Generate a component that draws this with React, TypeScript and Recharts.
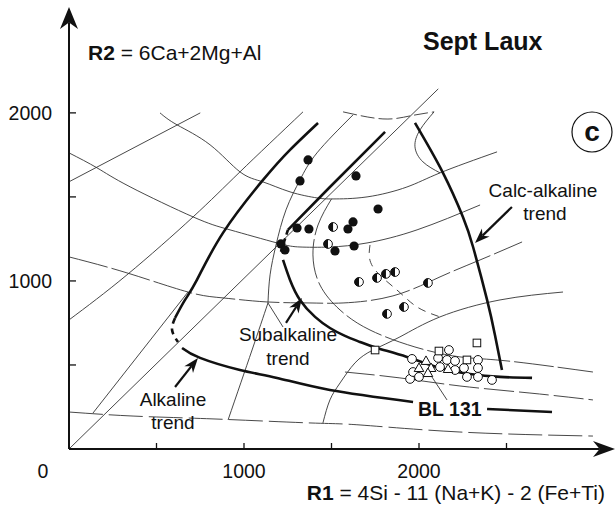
import React from 'react';
import { ComposedChart, Line, Scatter, XAxis, YAxis, ReferenceLine } from 'recharts';

type Pt = { x: number; y: number };

// axis ticks
const xTicks = [0, 500, 1000, 1500, 2000, 2500];
const xTickLabels: Record<number, string> = { 0: '0', 1000: '1000', 2000: '2000' };
const yTicks = [500, 1000, 1500, 2000];
const yTickLabels: Record<number, string> = { 1000: '1000', 2000: '2000' };

// axes (with arrow heads)
const xAxisLine: Pt[] = [{ x: 0, y: 0 }, { x: 3120, y: 0 }];
const yAxisLine: Pt[] = [{ x: 0, y: 0 }, { x: 0, y: 2630 }];

// thin field boundaries
const originLine: Pt[] = [{ x: 0, y: 0 }, { x: 2110, y: 2143 }];
const lineA: Pt[] = [{ x: 0, y: 1590 }, { x: 750, y: 2000 }];
const curveB: Pt[] = [
  { x: 520, y: 2000 }, { x: 617, y: 1929 }, { x: 806, y: 1810 }, { x: 977, y: 1649 },
  { x: 1109, y: 1589 }, { x: 1263, y: 1530 }, { x: 1417, y: 1494 }, { x: 1509, y: 1488 },
  { x: 1703, y: 1500 }, { x: 1931, y: 1559 }, { x: 2120, y: 1643 }, { x: 2446, y: 1768 },
];
const curveC: Pt[] = [
  { x: 0, y: 1762 }, { x: 160, y: 1673 }, { x: 349, y: 1560 }, { x: 709, y: 1381 },
  { x: 920, y: 1304 }, { x: 1189, y: 1226 }, { x: 1320, y: 1202 }, { x: 1491, y: 1202 },
  { x: 1703, y: 1226 }, { x: 1989, y: 1304 }, { x: 2349, y: 1452 },
];
const curveC2: Pt[] = [
  { x: 0, y: 1143 }, { x: 331, y: 1048 }, { x: 680, y: 934 }, { x: 880, y: 899 },
  { x: 1131, y: 875 }, { x: 1377, y: 869 }, { x: 1566, y: 869 }, { x: 1851, y: 911 },
  { x: 2120, y: 1024 }, { x: 2349, y: 1125 }, { x: 2589, y: 1232 },
];
const lineE: Pt[] = [
  { x: 0, y: 768 }, { x: 331, y: 1036 }, { x: 709, y: 1381 }, { x: 977, y: 1649 }, { x: 1337, y: 2006 },
];
const lineF: Pt[] = [{ x: 137, y: 214 }, { x: 680, y: 934 }];
const curveJ: Pt[] = [
  { x: 0, y: 220 }, { x: 366, y: 196 }, { x: 823, y: 179 }, { x: 1377, y: 155 },
  { x: 1663, y: 143 }, { x: 2234, y: 101 }, { x: 2994, y: 77 },
];
const curveG: Pt[] = [
  { x: 1451, y: 155 }, { x: 1491, y: 292 }, { x: 1549, y: 393 }, { x: 1634, y: 512 },
  { x: 1737, y: 589 }, { x: 1891, y: 667 }, { x: 2120, y: 786 }, { x: 2463, y: 887 }, { x: 2823, y: 934 },
];
const curveI: Pt[] = [
  { x: 1500, y: 1488 }, { x: 1423, y: 1333 }, { x: 1394, y: 1155 }, { x: 1434, y: 976 },
  { x: 1549, y: 827 }, { x: 1720, y: 708 }, { x: 1977, y: 607 }, { x: 2234, y: 548 },
  { x: 2503, y: 524 }, { x: 2994, y: 458 },
];
const curveM: Pt[] = [
  { x: 1577, y: 458 }, { x: 1891, y: 423 }, { x: 2234, y: 375 }, { x: 2634, y: 333 }, { x: 2994, y: 292 },
];
const curveL: Pt[] = [
  { x: 1623, y: 1988 }, { x: 1417, y: 1762 }, { x: 1320, y: 1601 }, { x: 1240, y: 1423 },
  { x: 1183, y: 1214 }, { x: 1149, y: 1036 }, { x: 1137, y: 869 },
];
const curveL2: Pt[] = [{ x: 1137, y: 869 }, { x: 1046, y: 589 }, { x: 909, y: 173 }];
const curveL3: Pt[] = [{ x: 1137, y: 869 }, { x: 1223, y: 726 }];
const curveP: Pt[] = [
  { x: 1720, y: 1214 }, { x: 1737, y: 1083 }, { x: 1874, y: 946 }, { x: 1989, y: 845 }, { x: 2120, y: 786 },
];
const arcQ: Pt[] = [{ x: 1566, y: 2006 }, { x: 1794, y: 1964 }, { x: 1949, y: 1982 }, { x: 2086, y: 2006 }];
const curveR: Pt[] = [
  { x: 2086, y: 2006 }, { x: 2006, y: 1899 }, { x: 1977, y: 1798 }, { x: 2023, y: 1708 }, { x: 2120, y: 1643 },
];

// thick trends
const alkUpper: Pt[] = [
  { x: 1423, y: 1940 }, { x: 1263, y: 1780 }, { x: 1109, y: 1601 }, { x: 880, y: 1286 },
  { x: 731, y: 1006 }, { x: 663, y: 887 }, { x: 606, y: 780 },
];
const alkDashed: Pt[] = [{ x: 606, y: 780 }, { x: 589, y: 708 }, { x: 623, y: 637 }];
const alkLower: Pt[] = [
  { x: 646, y: 601 }, { x: 749, y: 542 }, { x: 977, y: 470 }, { x: 1189, y: 423 },
  { x: 1491, y: 351 }, { x: 1966, y: 280 },
];
const alkTail: Pt[] = [{ x: 2389, y: 238 }, { x: 2760, y: 220 }];
const subUpper: Pt[] = [{ x: 1806, y: 1887 }, { x: 1491, y: 1559 }, { x: 1251, y: 1304 }];
const subDashed: Pt[] = [{ x: 1251, y: 1304 }, { x: 1211, y: 1173 }];
const subLower: Pt[] = [
  { x: 1223, y: 1125 }, { x: 1263, y: 1006 }, { x: 1320, y: 887 }, { x: 1406, y: 786 },
  { x: 1491, y: 720 }, { x: 1577, y: 673 }, { x: 1663, y: 637 }, { x: 1760, y: 601 },
  { x: 1931, y: 548 }, { x: 2120, y: 482 }, { x: 2291, y: 446 }, { x: 2463, y: 429 }, { x: 2646, y: 423 },
];
const calcAlk: Pt[] = [
  { x: 1977, y: 1940 }, { x: 2137, y: 1643 }, { x: 2251, y: 1381 }, { x: 2309, y: 1202 },
  { x: 2389, y: 887 }, { x: 2434, y: 679 }, { x: 2474, y: 470 },
];

// annotation arrows
const calcArrow: Pt[] = [{ x: 2531, y: 1440 }, { x: 2320, y: 1226 }];
const subArrow: Pt[] = [{ x: 1240, y: 750 }, { x: 1331, y: 899 }];
const alkArrow: Pt[] = [{ x: 606, y: 369 }, { x: 737, y: 542 }];
const bl131Leader: Pt[] = [{ x: 2063, y: 446 }, { x: 2160, y: 292 }];

// samples
const filledPts: Pt[] = [
  { x: 1366, y: 1720 }, { x: 1320, y: 1595 }, { x: 1640, y: 1625 }, { x: 1766, y: 1428 },
  { x: 1623, y: 1351 }, { x: 1594, y: 1309 }, { x: 1303, y: 1315 }, { x: 1371, y: 1309 },
  { x: 1211, y: 1220 }, { x: 1234, y: 1184 }, { x: 1520, y: 1178 }, { x: 1629, y: 1208 },
];
const halfPts: Pt[] = [
  { x: 1509, y: 1321 }, { x: 1480, y: 1220 }, { x: 1657, y: 994 }, { x: 1760, y: 1018 },
  { x: 1811, y: 1042 }, { x: 1863, y: 1053 }, { x: 2051, y: 988 }, { x: 1914, y: 845 }, { x: 1817, y: 804 },
];
const openCircles: Pt[] = [
  { x: 1960, y: 536 }, { x: 2171, y: 589 }, { x: 2109, y: 542 }, { x: 2160, y: 530 },
  { x: 2206, y: 524 }, { x: 2337, y: 530 }, { x: 2257, y: 482 }, { x: 2337, y: 482 },
  { x: 2274, y: 429 }, { x: 2337, y: 429 }, { x: 2417, y: 411 }, { x: 1949, y: 417 },
  { x: 1966, y: 458 }, { x: 2000, y: 429 }, { x: 2120, y: 488 }, { x: 2206, y: 470 },
];
const openSquares: Pt[] = [
  { x: 1749, y: 589 }, { x: 2114, y: 583 }, { x: 2331, y: 631 }, { x: 2274, y: 530 },
];
const openTriangles: Pt[] = [
  { x: 2000, y: 482 }, { x: 2040, y: 524 }, { x: 2069, y: 482 }, { x: 2051, y: 452 }, { x: 2166, y: 476 },
];

const FONT = '"Liberation Sans", Arial, Helvetica, sans-serif';
const INK = '#111';

function arrowShape(len: number, half: number, sw: number) {
  return (p: any) => {
    const { x1, y1, x2, y2 } = p;
    const dx = x2 - x1;
    const dy = y2 - y1;
    const d = Math.hypot(dx, dy) || 1;
    const ux = dx / d;
    const uy = dy / d;
    const nx = -uy;
    const ny = ux;
    const bx = x2 - ux * len;
    const by = y2 - uy * len;
    const ix = x2 - ux * len * 0.7;
    const iy = y2 - uy * len * 0.7;
    return (
      <g>
        <line x1={x1} y1={y1} x2={ix} y2={iy} stroke={INK} strokeWidth={sw} />
        <path
          d={`M${x2},${y2} L${bx + nx * half},${by + ny * half} L${ix},${iy} L${bx - nx * half},${by - ny * half} Z`}
          fill={INK}
        />
      </g>
    );
  };
}

const XTick = (props: any) => {
  const { x, y, payload } = props;
  const v = payload.value;
  const label = xTickLabels[v];
  return (
    <g>
      {v !== 0 && <line x1={x} y1={y} x2={x} y2={y - 6} stroke={INK} strokeWidth={1.3} />}
      {label && (
        <text x={v === 0 ? x - 26 : x} y={y + 29} textAnchor="middle" fontSize={19.5} fontFamily={FONT} fill={INK}>
          {label}
        </text>
      )}
    </g>
  );
};

const YTick = (props: any) => {
  const { x, y, payload } = props;
  const v = payload.value;
  const label = yTickLabels[v];
  return (
    <g>
      <line x1={x} y1={y} x2={x + 7} y2={y} stroke={INK} strokeWidth={1.3} />
      {label && (
        <text x={x - 17} y={y} dy="0.35em" textAnchor="end" fontSize={19.5} fontFamily={FONT} fill={INK}>
          {label}
        </text>
      )}
    </g>
  );
};

const filledDot = (p: any) => <circle cx={p.cx} cy={p.cy} r={4.6} fill={INK} />;
const halfDot = (p: any) => {
  const r = 4.4;
  return (
    <g>
      <circle cx={p.cx} cy={p.cy} r={r} fill="#fff" stroke={INK} strokeWidth={1} />
      <path d={`M${p.cx},${p.cy - r} A${r},${r} 0 0 0 ${p.cx},${p.cy + r} Z`} fill={INK} />
    </g>
  );
};
const openDot = (p: any) => <circle cx={p.cx} cy={p.cy} r={4.4} fill="#fff" stroke={INK} strokeWidth={1} />;
const openSquare = (p: any) => (
  <rect x={p.cx - 3.8} y={p.cy - 3.8} width={7.6} height={7.6} fill="#fff" stroke={INK} strokeWidth={1} />
);
const openTriangle = (p: any) => (
  <path
    d={`M${p.cx},${p.cy - 5} L${p.cx + 4.8},${p.cy + 3.5} L${p.cx - 4.8},${p.cy + 3.5} Z`}
    fill="#fff"
    stroke={INK}
    strokeWidth={1}
  />
);

function thin(data: Pt[], key: string, dash?: string, type: any = 'natural') {
  return (
    <Line
      key={key}
      data={data}
      dataKey="y"
      type={type}
      stroke="#333"
      strokeWidth={0.9}
      strokeDasharray={dash}
      dot={false}
      activeDot={false}
      isAnimationActive={false}
    />
  );
}

function thick(data: Pt[], key: string, dash?: string) {
  return (
    <Line
      key={key}
      data={data}
      dataKey="y"
      type="natural"
      stroke={INK}
      strokeWidth={2.6}
      strokeDasharray={dash}
      dot={false}
      activeDot={false}
      isAnimationActive={false}
    />
  );
}

export default function App() {
  return (
    <div style={{ position: 'absolute', left: 0, top: 0, width: 616, height: 512, background: '#fff' }}>
      <ComposedChart width={616} height={512} margin={{ top: 7, right: 1, bottom: 33, left: 9 }}>
        <XAxis
          dataKey="x"
          type="number"
          domain={[0, 3120]}
          allowDataOverflow
          ticks={xTicks}
          height={30}
          axisLine={false}
          tickLine={false}
          tickSize={0}
          tickMargin={0}
          tick={<XTick />}
          interval={0}
        />
        <YAxis
          dataKey="y"
          type="number"
          domain={[0, 2630]}
          allowDataOverflow
          ticks={yTicks}
          width={60}
          axisLine={false}
          tickLine={false}
          tickSize={0}
          tickMargin={0}
          tick={<YTick />}
          interval={0}
        />

        {thin(originLine, 'origin', undefined, 'linear')}
        {thin(lineA, 'a', undefined, 'linear')}
        {thin(curveB, 'b')}
        {thin(curveC, 'c')}
        {thin(curveC2, 'c2', '40 4')}
        {thin(lineE, 'e')}
        {thin(lineF, 'f', undefined, 'linear')}
        {thin(curveJ, 'j', '34 6')}
        {thin(curveG, 'g')}
        {thin(curveI, 'i', '40 4')}
        {thin(curveM, 'm', '30 5')}
        {thin(curveL, 'l')}
        {thin(curveL2, 'l2')}
        {thin(curveL3, 'l3', undefined, 'linear')}
        {thin(curveP, 'p', '8 6')}
        {thin(arcQ, 'q', '14 4')}
        {thin(curveR, 'r')}

        {thick(alkUpper, 'alkU')}
        {thick(alkDashed, 'alkD', '6 5')}
        {thick(alkLower, 'alkL')}
        {thick(alkTail, 'alkT')}
        {thick(subUpper, 'subU')}
        {thick(subDashed, 'subD', '5 4')}
        {thick(subLower, 'subL')}
        {thick(calcAlk, 'calc')}

        <ReferenceLine segment={bl131Leader} stroke="#333" strokeWidth={0.9} ifOverflow="visible" />
        <ReferenceLine segment={calcArrow} ifOverflow="visible" shape={arrowShape(15, 5.5, 2.2)} />
        <ReferenceLine segment={subArrow} ifOverflow="visible" shape={arrowShape(15, 5.5, 2.2)} />
        <ReferenceLine segment={alkArrow} ifOverflow="visible" shape={arrowShape(15, 5.5, 2.2)} />
        <ReferenceLine segment={xAxisLine} ifOverflow="visible" shape={arrowShape(22, 8, 2)} />
        <ReferenceLine segment={yAxisLine} ifOverflow="visible" shape={arrowShape(22, 9, 2)} />

        <Scatter data={filledPts} dataKey="y" shape={filledDot} isAnimationActive={false} />
        <Scatter data={halfPts} dataKey="y" shape={halfDot} isAnimationActive={false} />
        <Scatter data={openCircles} dataKey="y" shape={openDot} isAnimationActive={false} />
        <Scatter data={openSquares} dataKey="y" shape={openSquare} isAnimationActive={false} />
        <Scatter data={openTriangles} dataKey="y" shape={openTriangle} isAnimationActive={false} />
      </ComposedChart>

      <svg
        width={616}
        height={512}
        style={{ position: 'absolute', left: 0, top: 0, pointerEvents: 'none' }}
        fontFamily={FONT}
        fill={INK}
      >
        <text x={88} y={60} fontSize={21}>
          <tspan fontWeight="bold">R2</tspan>
          {' = 6Ca+2Mg+Al'}
        </text>
        <text x={423} y={50} fontSize={25} fontWeight="bold">
          Sept Laux
        </text>
        <circle cx={592} cy={132} r={20} fill="none" stroke={INK} strokeWidth={1.2} />
        <text x={592} y={141} textAnchor="middle" fontSize={28} fontWeight="bold">
          c
        </text>
        <text x={543} y={197} textAnchor="middle" fontSize={19}>Calc-alkaline</text>
        <text x={545} y={220} textAnchor="middle" fontSize={19}>trend</text>
        <text x={288} y={341} textAnchor="middle" fontSize={19}>Subalkaline</text>
        <text x={288} y={365} textAnchor="middle" fontSize={19}>trend</text>
        <text x={173} y={406} textAnchor="middle" fontSize={19}>Alkaline</text>
        <text x={173} y={429} textAnchor="middle" fontSize={19}>trend</text>
        <text x={418} y={416} fontSize={19.5} fontWeight="bold">BL 131</text>
        <text x={605} y={500} textAnchor="end" fontSize={21}>
          <tspan fontWeight="bold">R1</tspan>
          {' = 4Si - 11 (Na+K) - 2 (Fe+Ti)'}
        </text>
      </svg>
    </div>
  );
}
